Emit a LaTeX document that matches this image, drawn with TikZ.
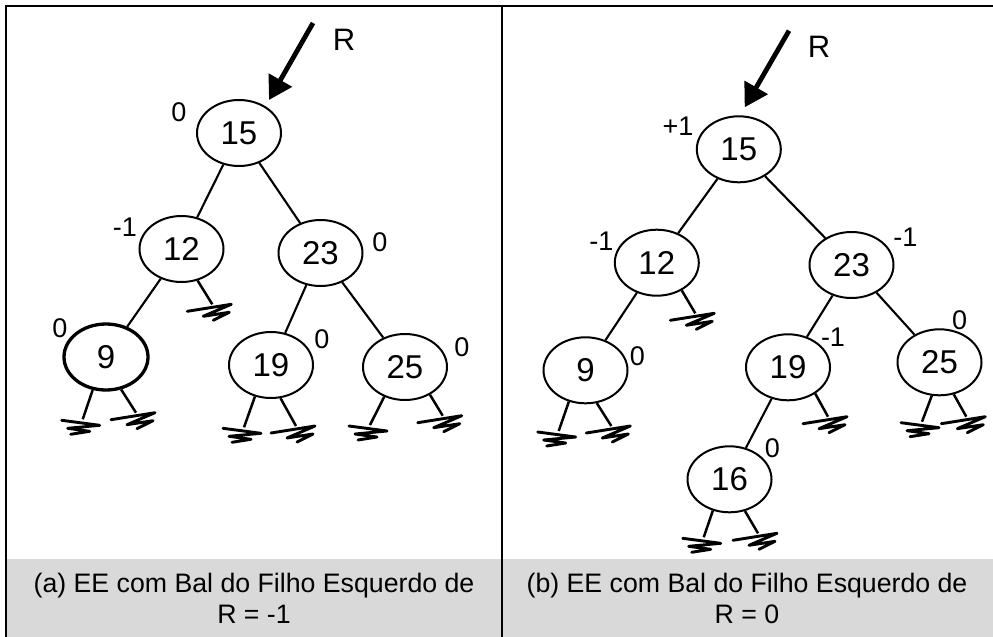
\documentclass[tikz,border=0pt]{standalone}
\usepackage{fontspec}
\setmainfont{Liberation Sans}
\usetikzlibrary{shapes.geometric,arrows.meta}
\definecolor{capgray}{HTML}{D9D9D9}
\begin{document}
\begin{tikzpicture}[x=1pt,y=-1pt,
  tnode/.style={ellipse,draw,line width=2pt,minimum width=84pt,minimum height=66pt,inner sep=0pt,font=\fontsize{33}{38}\selectfont},
  edge/.style={line width=2.1pt},
  stem/.style={line width=2.5pt},
  bal/.style={font=\fontsize{27}{30}\selectfont,inner sep=0pt},
  rlab/.style={font=\fontsize{31}{34}\selectfont,inner sep=0pt},
  caption/.style={font=\fontsize{26.7}{32}\selectfont,inner sep=0pt,anchor=base},
  ptr/.style={line width=4.8pt,-{Triangle[length=23pt,width=26pt]}},
  gndR/.pic={\draw[line width=2.9pt,line join=round,line cap=round] (-25,7) -- (19,0) -- (-9,12) -- (17,8) -- (1,16);},
  gndL/.pic={\draw[line width=2.9pt,line join=round,line cap=round] (-21,1) -- (17,6) -- (-15,9) -- (7,12) -- (-12,15);},
  frame/.style={line width=2.4pt}
]
\useasboundingbox (0,0) rectangle (993,637);
% caption band and frame
\fill[capgray] (6,559) rectangle (993,637);
\draw[frame] (993,6) -- (6,6) -- (6,637);
\draw[frame] (502,6) -- (502,637);

% ---------- panel (a) ----------
\node[tnode] (a15) at (239,133) {15};
\node[tnode] (a12) at (181.5,249) {12};
\node[tnode] (a23) at (320.5,253) {23};
\node[tnode,line width=3.3pt] (a9) at (106,357) {9};
\node[tnode] (a19) at (271,365) {19};
\node[tnode] (a25) at (405,367) {25};

\draw[edge] (a15) -- (a12);
\draw[edge] (a15) -- (a23);
\draw[edge] (a12) -- (a9);
\draw[edge] (a23) -- (a19);
\draw[edge] (a23) -- (a25);

\draw[stem] (a12.297) -- (212.3,304.3) pic{gndR};
\draw[stem] (a9.248) -- (82.7,419.3) pic{gndL};
\draw[stem] (a9.295) -- (136,412.7) pic{gndR};
\draw[stem] (a19.243) -- (244,427.3) pic{gndL};
\draw[stem] (a19.286) -- (296,426) pic{gndR};
\draw[stem] (a25.235) -- (370,425) pic{gndL};
\draw[stem] (a25.312) -- (442.7,415.7) pic{gndR};

\coordinate (aR) at (313,23);
\coordinate (aT) at (269,100);
\draw[ptr] (aR) -- (aT);
\node[rlab] (aRl) at (344,40) {R};

\node[bal] (ab15) at (179,112) {0};
\node[bal] (ab12) at (125,227) {-1};
\node[bal] (ab23) at (380,242) {0};
\node[bal] (ab9) at (60,328) {0};
\node[bal] (ab19) at (322,339) {0};
\node[bal] (ab25) at (462,347) {0};

\node[caption] (capa1) at (254,592) {(a) EE com Bal do Filho Esquerdo de};
\node[caption] (capa2) at (254,623) {R = -1};

% ---------- panel (b) ----------
\node[tnode] (b15) at (738.8,149.3) {15};
\node[tnode] (b12) at (656.8,262.7) {12};
\node[tnode] (b23) at (851.5,265) {23};
\node[tnode] (b9) at (585.5,370.3) {9};
\node[tnode] (b19) at (788,367.3) {19};
\node[tnode] (b25) at (939.5,362.3) {25};
\node[tnode] (b16) at (729.5,479.3) {16};

\draw[edge] (b15) -- (b12);
\draw[edge] (b15) -- (b23);
\draw[edge] (b12) -- (b9);
\draw[edge] (b23) -- (b19);
\draw[edge] (b23) -- (b25);
\draw[edge] (b19) -- (b16);

\draw[stem] (b12.312) -- (695.3,313.3) pic{gndR};
\draw[stem] (b19.316) -- (828,416.7) pic{gndR};
\draw[stem] (b9.242) -- (558.7,431) pic{gndL};
\draw[stem] (b9.289) -- (611.3,426) pic{gndR};
\draw[stem] (b25.257) -- (922,421.7) pic{gndL};
\draw[stem] (b25.294) -- (966.3,416.7) pic{gndR};
\draw[stem] (b16.242) -- (703.7,537.3) pic{gndL};
\draw[stem] (b16.296) -- (758,533.3) pic{gndR};

\coordinate (bR) at (789,30.7);
\coordinate (bT) at (744.7,107.3);
\draw[ptr] (bR) -- (bT);
\node[rlab] (bRl) at (819,46.7) {R};

\node[bal] (bb15) at (678,126) {+1};
\node[bal] (bb12) at (601.3,241.7) {-1};
\node[bal] (bb23) at (905.3,237.3) {-1};
\node[bal] (bb9) at (637.3,356) {0};
\node[bal] (bb19) at (833,337.3) {-1};
\node[bal] (bb25) at (959.7,320) {0};
\node[bal] (bb16) at (772.3,448.3) {0};

\node[caption] (capb1) at (747,592) {(b) EE com Bal do Filho Esquerdo de};
\node[caption] (capb2) at (747,623) {R = 0};
\end{tikzpicture}
\end{document}
